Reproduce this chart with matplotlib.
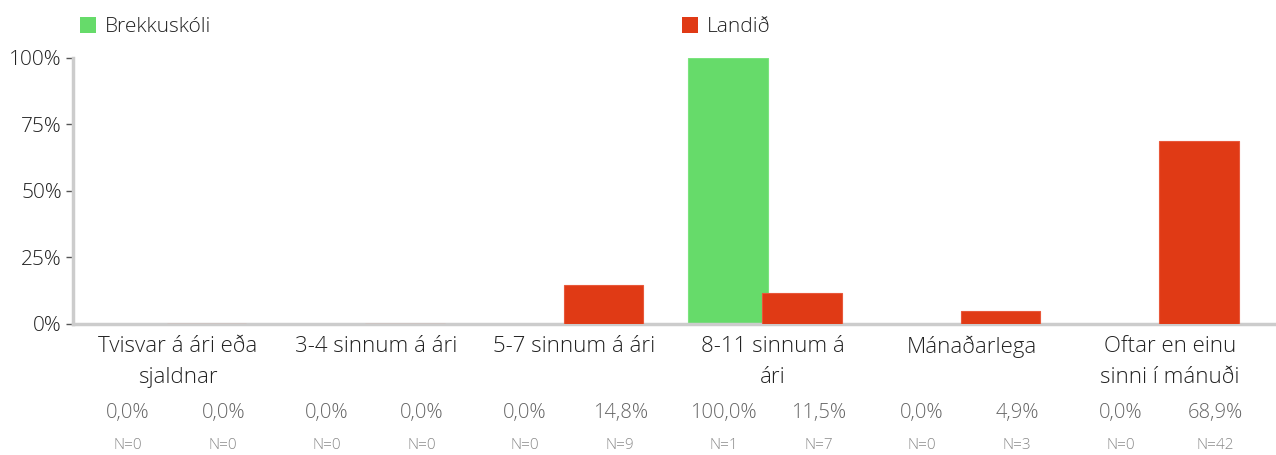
import numpy as np
import matplotlib
matplotlib.use("Agg")
import matplotlib.pyplot as plt
from matplotlib.patches import Patch

# data
categories = ["Tvisvar á ári eða\nsjaldnar", "3-4 sinnum á ári", "5-7 sinnum á ári",
              "8-11 sinnum á\nári", "Mánaðarlega", "Oftar en einu\nsinni í mánuði"]
school_name = "Brekkuskóli"
country_name = "Landið"
school_pct = [0.0, 0.0, 0.0, 100.0, 0.0, 0.0]
country_pct = [0.0, 0.0, 14.8, 11.5, 4.9, 68.9]
school_n = [0, 0, 0, 1, 0, 0]
country_n = [0, 0, 9, 7, 3, 42]

GREEN = "#66db6a"
RED = "#e03a15"
GRID = "#cccccc"

plt.rcParams["font.family"] = ["Open Sans", "DejaVu Sans"]
plt.rcParams["font.weight"] = "light"

fig = plt.figure(figsize=(12.76, 4.55), dpi=100)
ax = fig.add_axes([0.0572, 0.288, 0.9428, 0.5846])

x = np.arange(len(categories))
w = 0.40
ax.bar(x - 0.186, school_pct, width=w, color=GREEN, edgecolor="#7be47e", linewidth=0.8, zorder=2)
ax.bar(x + 0.186, country_pct, width=w, color=RED, edgecolor="#e8583a", linewidth=0.8, zorder=3)

ax.set_xlim(-0.487, 5.574)
ax.set_ylim(0, 100)
ax.set_yticks([0, 25, 50, 75, 100])
ax.set_yticklabels(["0%", "25%", "50%", "75%", "100%"])
ax.set_xticks([])
ax.tick_params(axis="y", length=5, width=1, color="#555555", labelsize=15,
               labelcolor="#222222", pad=3)

for side in ["top", "right"]:
    ax.spines[side].set_visible(False)
for side in ["left", "bottom"]:
    ax.spines[side].set_color(GRID)
    ax.spines[side].set_linewidth(2.5)

tr = ax.get_xaxis_transform()
for i, cat in enumerate(categories):
    ax.text(i + 0.04, -0.045, cat, transform=tr, ha="center", va="top",
            fontsize=16, color="#222222", linespacing=1.6)
    for off, pct, n in [(-0.21, school_pct[i], school_n[i]), (0.27, country_pct[i], country_n[i])]:
        s = f"{pct:.1f}%".replace(".", ",")
        ax.text(i + off, -0.335, s, transform=tr, ha="center", va="center",
                fontsize=14.5, color="#666666")
        ax.text(i + off, -0.458, f"N={n}", transform=tr, ha="center", va="center",
                fontsize=11, color="#8a8a8a")

# legend
handles = [Patch(facecolor=GREEN, edgecolor="none"), Patch(facecolor=RED, edgecolor="none")]
fig.legend(handles, [school_name, country_name], ncol=2, loc="upper left",
           bbox_to_anchor=(0.048, 1.003), frameon=False, fontsize=15,
           handlelength=0.75, handleheight=0.75, handletextpad=0.45,
           columnspacing=22.6, labelcolor="#222222")

fig.savefig("out.png", dpi=100)
